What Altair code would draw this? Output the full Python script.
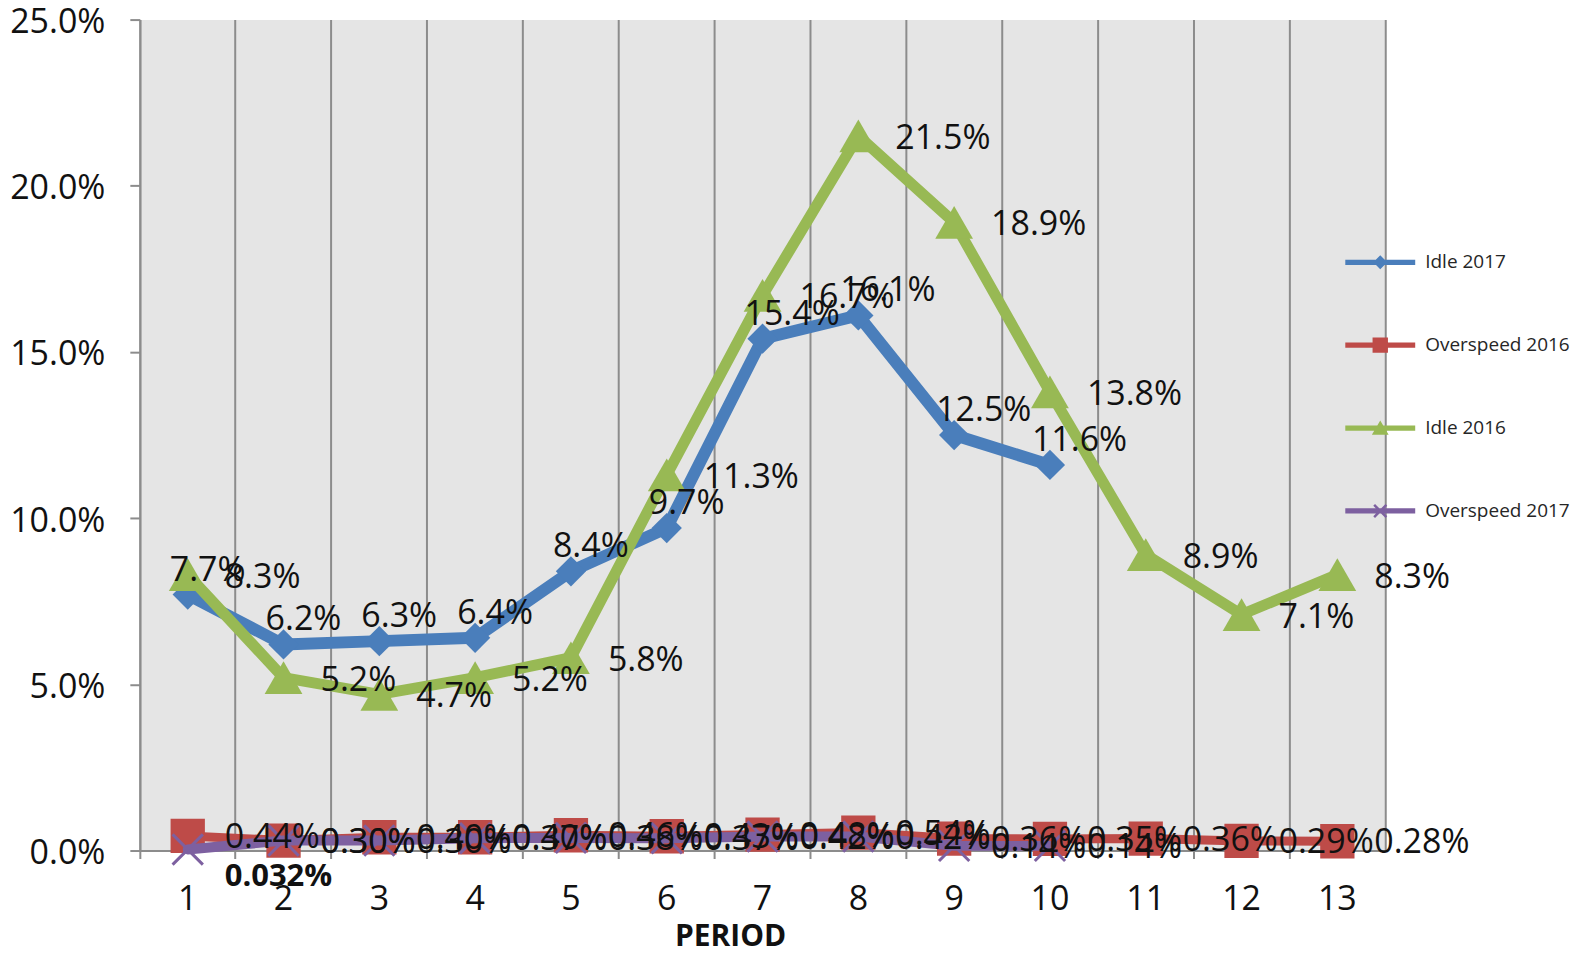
import altair as alt
import pandas as pd

# ---------------- data ----------------
periods = list(range(1, 14))
series_names = ["Idle 2017", "Overspeed 2016", "Idle 2016", "Overspeed 2017"]
idle_2017 = [7.7, 6.2, 6.3, 6.4, 8.4, 9.7, 15.4, 16.1, 12.5, 11.6]
overspeed_2016 = [0.44, 0.30, 0.40, 0.40, 0.46, 0.43, 0.48, 0.54, 0.36, 0.35, 0.36, 0.29, 0.28]
idle_2016 = [8.3, 5.2, 4.7, 5.2, 5.8, 11.3, 16.7, 21.5, 18.9, 13.8, 8.9, 7.1, 8.3]
overspeed_2017 = [0.032, 0.30, 0.30, 0.37, 0.38, 0.37, 0.42, 0.42, 0.14, 0.14]
y_ticks = [0, 5, 10, 15, 20, 25]
x_title = "PERIOD"


def fmt(v, series):
    if series.startswith("Idle"):
        return f"{v:.1f}%"
    if v < 0.1:
        return f"{v:.3f}%"
    return f"{v:.2f}%"


rows = []
for name, vals in zip(series_names, [idle_2017, overspeed_2016, idle_2016, overspeed_2017]):
    for p, v in zip(periods, vals):
        rows.append({"period": p, "value": v, "series": name, "label": fmt(v, name)})
df = pd.DataFrame(rows)

# ---------------- styles ----------------
FONT = "Open Sans"
GRID = "#8C8C8C"
TXT = "#111111"
FS = 34
X_PATH = "M-1,-1L1,1M-1,1L1,-1"

style = {
    "Idle 2017": dict(color="#4A7EBB", lw=12, shape="diamond", size=920, filled=True, msw=0,
                      dx=-18, dy=-24),
    "Overspeed 2016": dict(color="#BE4B48", lw=9, shape="square", size=1180, filled=True, msw=0,
                           dx=37, dy=2),
    "Idle 2016": dict(color="#98B954", lw=11, shape="triangle-up", size=1430, filled=True, msw=0,
                      dx=37, dy=3),
    "Overspeed 2017": dict(color="#7D60A0", lw=10, shape=X_PATH, size=920, filled=False, msw=3,
                           dx=37, dy=2),
}

LINE = "M-1,-0.075L1,-0.075L1,0.075L-1,0.075Z"
legend_paths = [
    LINE + "M0,-0.2L0.2,0L0,0.2L-0.2,0Z",
    LINE + "M-0.22,-0.22L0.22,-0.22L0.22,0.22L-0.22,0.22Z",
    LINE + "M0,-0.22L0.24,0.19L-0.24,0.19Z",
    LINE + "M-0.2,-0.15L-0.15,-0.2L0.2,0.15L0.15,0.2Z"
           "M0.15,-0.2L0.2,-0.15L-0.15,0.2L-0.2,0.15Z",
]

x_scale = alt.Scale(type="band", domain=periods, paddingInner=0, paddingOuter=0)
y_scale = alt.Scale(domain=[0, 25], nice=False, zero=True)
color_scale = alt.Scale(domain=series_names, range=[style[s]["color"] for s in series_names])

x_axis = alt.Axis(
    title=x_title, bandPosition=0, grid=True, gridColor=GRID, gridWidth=2,
    domainColor=GRID, domainWidth=2, ticks=True, tickColor=GRID, tickWidth=2, tickSize=8,
    labelAngle=0, labelFont=FONT, labelFontSize=FS, labelColor=TXT, labelPadding=24,
    titleFont=FONT, titleFontSize=30, titleFontWeight="bold", titleColor=TXT,
    titleX=591, titleY=86, titleBaseline="middle",
)
y_left = alt.Axis(
    values=y_ticks, labelExpr="format(datum.value, '.1f') + '%'", grid=False,
    domainColor=GRID, domainWidth=2, tickColor=GRID, tickWidth=2, tickSize=10,
    labelPadding=25, labelFont=FONT, labelFontSize=FS, labelColor=TXT, labelOffset=3,
    title=None,
)
y_right = alt.Axis(orient="right", labels=False, ticks=False, grid=False, domain=True,
                   domainColor=GRID, domainWidth=2, title=None)

leg = alt.Legend(
    title=None, orient="none", legendX=1207, legendY=208, symbolSize=4900,
    symbolStrokeWidth=0, symbolOpacity=1, labelFont=FONT, labelFontSize=19,
    labelColor="#262626", labelOffset=10, rowPadding=38, padding=0,
)

base = alt.Chart(df)


def X(axis=None):
    if axis is None:
        return alt.X("period:O", scale=x_scale)
    return alt.X("period:O", scale=x_scale, axis=axis)


def Y(axis=None):
    return alt.Y("value:Q", scale=y_scale, axis=axis)


legend_layer = base.mark_point(filled=True, opacity=0).encode(
    x=X(x_axis),
    y=Y(y_right),
    color=alt.Color("series:N", scale=color_scale, legend=leg),
    shape=alt.Shape("series:N", scale=alt.Scale(domain=series_names, range=legend_paths), legend=leg),
)

layers = [legend_layer]
for i, s in enumerate(series_names):
    st = style[s]
    sub = base.transform_filter(alt.datum.series == s)
    layers.append(
        sub.mark_line(strokeWidth=st["lw"], strokeJoin="round", strokeCap="round").encode(
            x=X(), y=Y(y_left if i == 0 else None),
            color=alt.Color("series:N", scale=color_scale, legend=None),
        )
    )
    layers.append(
        sub.mark_point(shape=st["shape"], filled=st["filled"], size=st["size"], opacity=1,
                       strokeWidth=st["msw"]).encode(
            x=X(), y=Y(),
            color=alt.Color("series:N", scale=color_scale, legend=None),
        )
    )

for s in series_names:
    st = style[s]
    cond = alt.datum.series == s
    if s == "Overspeed 2017":
        cond = (alt.datum.series == s) & (alt.datum.period != 1)
    layers.append(
        base.transform_filter(cond).mark_text(
            align="left", baseline="middle", dx=st["dx"], dy=st["dy"],
            font=FONT, fontSize=FS, color=TXT,
        ).encode(x=X(), y=Y(), text="label:N")
    )

layers.append(
    base.transform_filter((alt.datum.series == "Overspeed 2017") & (alt.datum.period == 1)).mark_text(
        align="left", baseline="middle", dx=37, dy=28, font=FONT, fontSize=31,
        fontWeight="bold", color=TXT,
    ).encode(x=X(), y=Y(), text="label:N")
)

chart = (
    alt.layer(*layers)
    .resolve_axis(y="independent")
    .properties(
        width=1247, height=832,
        autosize=alt.AutoSizeParams(type="none"),
        padding={"left": 132, "top": 11, "right": 195, "bottom": 103},
        background="white",
    )
    .configure_view(fill="#E5E5E5", stroke="transparent")
)

chart.save("out.html", embed_options={"renderer": "svg", "actions": False})
